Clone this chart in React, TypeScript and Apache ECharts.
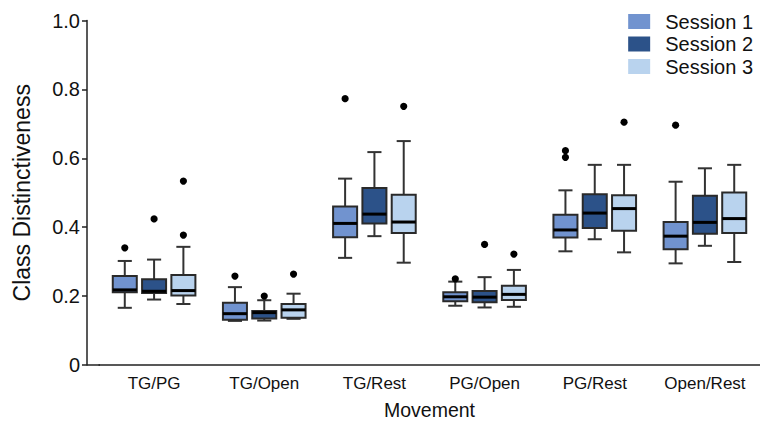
import React, { useEffect, useRef } from "react";
import * as echarts from "echarts";

const categories = ["TG/PG", "TG/Open", "TG/Rest", "PG/Open", "PG/Rest", "Open/Rest"];
const sessionNames = ["Session 1", "Session 2", "Session 3"];
const sessionColors = ["#7193cf", "#2c5289", "#b9d3ee"];
const yTicks = [0, 0.2, 0.4, 0.6, 0.8, 1.0];

// [min, q1, median, q3, max] per category
const session1Stats = [
  [0.166, 0.211, 0.218, 0.258, 0.302],
  [0.128, 0.131, 0.149, 0.181, 0.226],
  [0.311, 0.371, 0.411, 0.460, 0.541],
  [0.172, 0.185, 0.198, 0.211, 0.242],
  [0.330, 0.370, 0.392, 0.436, 0.507],
  [0.295, 0.336, 0.374, 0.415, 0.532],
];
const session2Stats = [
  [0.190, 0.209, 0.214, 0.249, 0.306],
  [0.129, 0.135, 0.152, 0.157, 0.188],
  [0.374, 0.411, 0.438, 0.514, 0.618],
  [0.167, 0.182, 0.197, 0.215, 0.255],
  [0.365, 0.398, 0.441, 0.496, 0.581],
  [0.346, 0.381, 0.414, 0.491, 0.571],
];
const session3Stats = [
  [0.177, 0.202, 0.216, 0.261, 0.343],
  [0.134, 0.137, 0.160, 0.177, 0.207],
  [0.297, 0.383, 0.415, 0.494, 0.650],
  [0.169, 0.189, 0.205, 0.230, 0.276],
  [0.327, 0.390, 0.454, 0.493, 0.581],
  [0.299, 0.383, 0.425, 0.501, 0.581],
];

// [categoryIndex, value]
const session1Outliers = [[0, 0.340], [1, 0.258], [2, 0.773], [3, 0.250], [4, 0.622], [4, 0.603], [5, 0.696]];
const session2Outliers = [[0, 0.424], [1, 0.200], [3, 0.350]];
const session3Outliers = [[0, 0.534], [0, 0.377], [1, 0.264], [2, 0.751], [3, 0.322], [4, 0.705]];

const allStats = [session1Stats, session2Stats, session3Stats];
const allOutliers = [session1Outliers, session2Outliers, session3Outliers];

const FONT = "'Liberation Sans', Arial, Helvetica, sans-serif";

export default function App() {
  const ref = useRef<HTMLDivElement>(null);
  useEffect(() => {
    if (!ref.current) return;
    const chart = echarts.init(ref.current, null, { renderer: "svg" });

    const boxSeries = allStats.map((stats, sIdx) => ({
      type: "custom",
      name: sessionNames[sIdx],
      itemStyle: { color: sessionColors[sIdx] },
      encode: { x: 0, y: [1, 2, 3, 4, 5] },
      data: stats.map((s, i) => [i, ...s]),
      renderItem: (params: any, api: any) => {
        const cat = api.value(0);
        const band = api.size([1, 0])[0];
        const off = (sIdx - 1) * band * 0.266;
        const half = band * 0.109;
        const cap = band * 0.064;
        const pMin = api.coord([cat, api.value(1)]);
        const pQ1 = api.coord([cat, api.value(2)]);
        const pMed = api.coord([cat, api.value(3)]);
        const pQ3 = api.coord([cat, api.value(4)]);
        const pMax = api.coord([cat, api.value(5)]);
        const x = pMin[0] + off;
        const wStyle = { stroke: "#333", lineWidth: 2 };
        return {
          type: "group",
          children: [
            { type: "line", shape: { x1: x, y1: pMax[1], x2: x, y2: pQ3[1] }, style: wStyle },
            { type: "line", shape: { x1: x, y1: pQ1[1], x2: x, y2: pMin[1] }, style: wStyle },
            { type: "line", shape: { x1: x - cap, y1: pMax[1], x2: x + cap, y2: pMax[1] }, style: wStyle },
            { type: "line", shape: { x1: x - cap, y1: pMin[1], x2: x + cap, y2: pMin[1] }, style: wStyle },
            {
              type: "rect",
              shape: { x: x - half, y: pQ3[1], width: 2 * half, height: pQ1[1] - pQ3[1] },
              style: { fill: sessionColors[sIdx], stroke: "#2a2a2a", lineWidth: 2 },
            },
            {
              type: "line",
              shape: { x1: x - half, y1: pMed[1], x2: x + half, y2: pMed[1] },
              style: { stroke: "#000", lineWidth: 3 },
            },
          ],
        };
      },
    }));

    const outlierSeries = allOutliers.map((pts, sIdx) => ({
      type: "custom",
      name: sessionNames[sIdx] + " outliers",
      encode: { x: 0, y: 1 },
      data: pts,
      renderItem: (params: any, api: any) => {
        const band = api.size([1, 0])[0];
        const off = (sIdx - 1) * band * 0.266;
        const p = api.coord([api.value(0), api.value(1)]);
        return {
          type: "circle",
          shape: { cx: p[0] + off, cy: p[1], r: 3.6 },
          style: { fill: "#000" },
        };
      },
    }));

    chart.setOption({
      animation: false,
      backgroundColor: "#ffffff",
      textStyle: { fontFamily: FONT },
      grid: { left: 99, right: 0, top: 20.5, bottom: 59, containLabel: false, outerBoundsMode: "none" },
      legend: {
        data: sessionNames,
        orient: "vertical",
        right: 7,
        top: 11.5,
        padding: 0,
        icon: "rect",
        itemWidth: 22,
        itemHeight: 15,
        itemGap: 2.5,
        itemStyle: { borderWidth: 0 },
        textStyle: { fontSize: 20, color: "#111", fontFamily: FONT, padding: [0, 0, 0, 10], lineHeight: 20 },
      },
      xAxis: {
        type: "category",
        data: categories,
        name: "Movement",
        nameLocation: "middle",
        nameGap: 35,
        nameTextStyle: { fontSize: 19.5, color: "#111", fontFamily: FONT },
        axisLine: { lineStyle: { color: "#222", width: 1.5 } },
        axisTick: { alignWithLabel: true, length: 4, lineStyle: { color: "#222", width: 1.5 } },
        axisLabel: { fontSize: 17, color: "#111", margin: 10, fontFamily: FONT },
        splitLine: { show: false },
      },
      yAxis: {
        type: "value",
        min: 0,
        max: 1,
        interval: 0.2,
        offset: 12,
        name: "Class Distinctiveness",
        nameLocation: "middle",
        nameGap: 54,
        nameTextStyle: { fontSize: 23, color: "#111", fontFamily: FONT },
        axisLine: { show: true, lineStyle: { color: "#222", width: 1.5 } },
        axisTick: { show: true, length: 5, lineStyle: { color: "#222", width: 1.5 } },
        axisLabel: {
          fontSize: 20,
          color: "#111",
          margin: 7,
          fontFamily: FONT,
          formatter: (v: number) => {
            const t = yTicks.find((k) => Math.abs(k - v) < 1e-9);
            const val = t === undefined ? v : t;
            return val === 0 ? "0" : val.toFixed(1);
          },
        },
        splitLine: { show: false },
      },
      graphic: [
        {
          type: "line",
          shape: { x1: 87, y1: 365, x2: 100, y2: 365 },
          style: { stroke: "#222", lineWidth: 1.5 },
        },
      ],
      series: [...boxSeries, ...outlierSeries],
    });

    return () => chart.dispose();
  }, []);

  return (
    <div
      ref={ref}
      style={{ position: "fixed", left: 0, top: 0, width: 760, height: 424, background: "#fff" }}
    />
  );
}
